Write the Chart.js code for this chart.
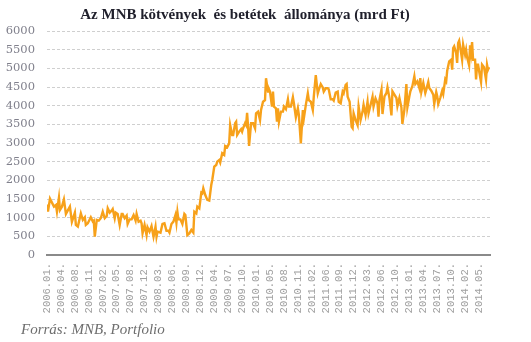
<!DOCTYPE html>
<html>
<head>
<meta charset="utf-8">
<script src="https://cdn.jsdelivr.net/npm/chart.js@4"></script>
<style>
  body { margin: 0; background: #fff; }
  #chart { display: block; }
</style>
</head>
<body>
<canvas id="chart" width="531" height="342"></canvas>
<script>
// Weekly observations (week index from 2006 Jan) and stock in bn HUF
const weeks = [0,1,3,7,9,10,12,13,15,17,19,23,25,28,29,31,34,36,38,39,41,44,46,47,48,50,52,54,56,58,60,61,63,65,66,68,69,71,73,75,76,78,80,81,83,85,87,89,90,92,94,95,96,98,100,101,103,105,107,109,110,111,114,116,118,120,122,123,125,127,129,130,131,132,134,136,138,139,141,143,145,147,148,150,151,153,155,156,157,159,161,163,165,166,168,170,171,173,174,176,178,179,181,183,184,186,187,189,190,191,193,195,196,197,199,200,201,202,203,205,207,209,210,212,214,215,217,219,220,222,223,224,226,227,228,230,231,232,233,235,237,238,240,242,243,245,247,248,250,252,253,255,257,258,260,262,263,265,267,268,270,272,273,275,277,278,280,282,283,285,287,288,290,292,293,295,297,298,300,301,302,304,306,307,308,310,312,313,315,317,318,320,322,323,325,327,328,330,332,333,334,336,337,339,341,342,344,346,347,349,351,352,354,356,357,359,361,362,364,365,367,369,370,372,374,375,376,378,380,381,383,384,386,388,389,391,392,393,395,397,398,400,401,402,404,406,407,408,409,411,412,413,414,416,417,418,420,421,422,424,425,426,427,428,430,431,432,433,434,436,437,439,441,442,443,444];

const values = [1350,1160,1510,1295,1340,1160,1535,1205,1295,1490,1100,1295,890,1135,805,760,1115,940,1010,805,850,1010,895,920,490,940,920,985,1160,985,1045,1250,1135,1190,1230,985,1135,1100,805,1100,1100,985,1055,830,955,955,1070,920,1100,890,920,850,580,805,535,740,625,775,490,760,490,625,600,830,850,650,650,600,830,895,1070,865,1150,955,955,830,1100,1070,535,580,670,600,1160,1115,1295,1250,1670,1650,1785,1605,1475,1455,1875,2010,2365,2410,2500,2545,2475,2725,2680,2920,2885,2990,3480,3215,3215,3530,3570,3215,3305,3370,3305,3395,3530,3480,3810,3435,2920,3530,3530,3395,3795,3840,3615,3885,4105,4150,4735,4375,4440,4375,3975,4375,3975,3930,3570,3930,3570,3840,3840,3975,3905,4170,3975,3975,4225,4065,3690,3930,3750,2990,3885,3660,4020,4330,4150,4105,3885,4240,4820,4330,4420,4580,4490,4375,4465,4465,4440,4170,4170,4135,4350,4375,4105,4065,4375,4330,4555,4580,4240,4105,3435,3395,3795,3615,3480,3975,3615,3840,4020,3750,4105,3795,4020,4240,3975,4195,4065,3705,4160,4430,3775,4250,4340,4490,4205,3740,4385,4295,4205,3985,4205,3955,3510,3895,4580,3955,4250,4385,4520,4785,4580,4650,4475,4740,4365,4610,4340,4430,4635,4475,4400,4295,4045,4365,4250,4045,4205,4400,4310,4700,4650,4935,5185,5230,4965,5545,5590,5410,5145,5680,5740,5410,5230,5635,5365,5500,5295,5080,5620,5410,5705,5230,5230,4700,5100,5100,4935,4635,5100,5030,4700,5100,4965,5030];

// one label every 14 weeks
const tickLabels = ['2006.01.','2006.04.','2006.08.','2006.11.','2007.02.','2007.05.','2007.08.','2007.12.',
  '2008.03.','2008.06.','2008.09.','2008.12.','2009.04.','2009.07.','2009.10.','2010.01.',
  '2010.05.','2010.08.','2010.11.','2011.02.','2011.06.','2011.09.','2011.12.','2012.03.',
  '2012.06.','2012.10.','2013.01.','2013.04.','2013.07.','2013.10.','2014.02.','2014.05.'];
const tickStep = 14;

const yTicks = [0,500,1000,1500,2000,2500,3000,3500,4000,4500,5000,5500,6000];

const titleText = 'Az MNB kötvények  és betétek  állománya (mrd Ft)';
const sourceText = 'Forrás: MNB, Portfolio';

// Title and source note
const textPlugin = {
    id: 'texts',
    afterDraw(chart) {
        const ctx = chart.ctx;
        ctx.save();
        ctx.fillStyle = '#1f1f2b';
        ctx.font = 'bold 15px "Liberation Serif"';
        ctx.textAlign = 'center';
        ctx.textBaseline = 'alphabetic';
        ctx.fillText(titleText, 245, 19);
        ctx.fillStyle = '#6e6e6e';
        ctx.font = 'italic 15px "Liberation Serif"';
        ctx.textAlign = 'left';
        ctx.fillText(sourceText, 21, 334);
        ctx.restore();
    }
};

const ctx = document.getElementById('chart').getContext('2d');
new Chart(ctx, {
    type: 'line',
    data: {
        datasets: [{
            data: weeks.map((w, i) => ({ x: w, y: values[i] })),
            borderColor: '#F7A11A',
            borderWidth: 2.4,
            pointRadius: 0,
            tension: 0,
            fill: false
        }]
    },
    options: {
        responsive: false,
        animation: false,
        layout: { padding: { left: 0, right: 41, top: 31, bottom: 0 } },
        plugins: {
            legend: { display: false },
            tooltip: { enabled: false }
        },
        scales: {
            x: {
                type: 'linear',
                min: 0,
                max: 445,
                afterBuildTicks: (scale) => {
                    scale.ticks = tickLabels.map((_, i) => ({ value: i * tickStep }));
                },
                afterFit: (scale) => { scale.height = 87; },
                grid: { display: false, drawTicks: false },
                border: { display: true, color: '#8a8a8a', width: 2 },
                ticks: {
                    autoSkip: false,
                    maxRotation: 90,
                    minRotation: 90,
                    padding: 8,
                    color: '#a0a0a0',
                    font: { family: '"Liberation Mono"', size: 10.5 },
                    callback: (value, index) => tickLabels[index]
                }
            },
            y: {
                min: 0,
                max: 6000,
                afterBuildTicks: (scale) => {
                    scale.ticks = yTicks.map(v => ({ value: v }));
                },
                afterFit: (scale) => { scale.width = 47; },
                grid: { color: '#cfcfcf', lineWidth: 1, drawTicks: false },
                border: { display: false, dash: [3, 2] },
                ticks: {
                    padding: 12,
                    color: '#80808c',
                    font: { family: '"DejaVu Serif"', size: 11.5 },
                    callback: (value) => String(value)
                }
            }
        }
    },
    plugins: [textPlugin]
});
</script>
</body>
</html>
